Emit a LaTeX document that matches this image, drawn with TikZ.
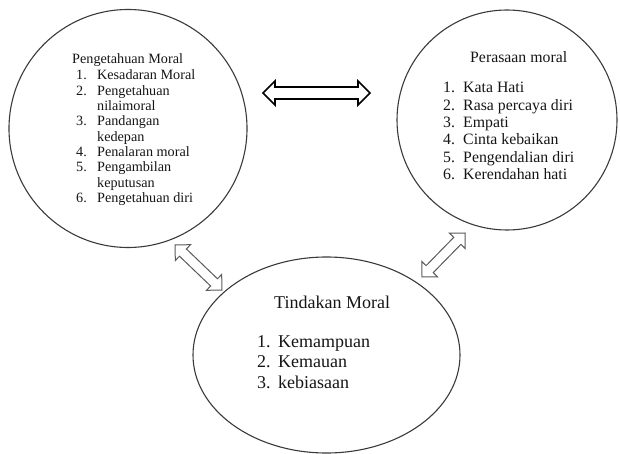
\documentclass[tikz,border=0pt]{standalone}
\usepackage{fontspec}
\setmainfont{Liberation Serif}
\usetikzlibrary{shapes.geometric, calc}
\definecolor{inkgrey}{HTML}{151515}
\definecolor{rimgrey}{HTML}{3A3A3A}
\definecolor{arrowgrey}{HTML}{5A5A5A}
\newcommand\knowfont{\fontsize{14.2}{15.3}\selectfont}
\newcommand\feelfont{\fontsize{15.8}{17.3}\selectfont}
\newcommand\actfont{\fontsize{18}{20.5}\selectfont}
% outlined two-way block arrow between two tip coordinates:
% #1 style, #2 and #3 tips, #4 half shaft, #5 half head (= head length)
\newcommand\twoway[5]{%
  \draw[#1] (#2)
    -- ($(#2)!#5!(#3)!#5!90:(#3)$)
    -- ($(#2)!#5!(#3)!#4!90:(#3)$)
    -- ($(#3)!#5!(#2)!#4!-90:(#2)$)
    -- ($(#3)!#5!(#2)!#5!-90:(#2)$)
    -- (#3)
    -- ($(#3)!#5!(#2)!#5!90:(#2)$)
    -- ($(#3)!#5!(#2)!#4!90:(#2)$)
    -- ($(#2)!#5!(#3)!#4!-90:(#3)$)
    -- ($(#2)!#5!(#3)!#5!-90:(#3)$)
    -- cycle;}
\tikzset{
  bubble/.style={draw=rimgrey, line width=1.1pt, inner sep=0pt},
  heading/.style={anchor=base west, inner sep=0pt, text=inkgrey},
  itemlist/.style={anchor=base west, inner sep=0pt, text=inkgrey},
  boldlink/.style={draw=black, line width=1.6pt, line join=miter},
  thinlink/.style={draw=arrowgrey, line width=1pt, line join=miter},
}

\begin{document}
\begin{tikzpicture}[x=1pt, y=-1pt]
  \useasboundingbox (0,0) rectangle (620,454);

  % The three components, drawn as empty outlines
  \node[bubble, circle, minimum size=238pt] (know) at (128,128.5) {};
  \node[bubble, circle, minimum size=220pt] (feel) at (507,120) {};
  \node[bubble, ellipse, minimum width=267pt, minimum height=196pt] (act) at (326.5,355) {};

  % Moral knowing
  \node[heading, font=\knowfont] (knowtitle) at (72,64) {Pengetahuan Moral};
  \node[itemlist, font=\knowfont] (knowlist) at (76,80) {%
    \begin{tabular}[t]{@{}l@{\hspace{10.3pt}}l@{}}
      1. & Kesadaran Moral\\
      2. & Pengetahuan\\
         & nilaimoral\\
      3. & Pandangan\\
         & kedepan\\
      4. & Penalaran moral\\
      5. & Pengambilan\\
         & keputusan\\
      6. & Pengetahuan diri
    \end{tabular}};

  % Moral feeling
  \node[heading, font=\feelfont] (feeltitle) at (470,63) {Perasaan moral};
  \node[itemlist, font=\feelfont] (feellist) at (443,93) {%
    \begin{tabular}[t]{@{}l@{\hspace{8.2pt}}l@{}}
      1. & Kata Hati\\
      2. & Rasa percaya diri\\
      3. & Empati\\
      4. & Cinta kebaikan\\
      5. & Pengendalian diri\\
      6. & Kerendahan hati
    \end{tabular}};

  % Moral action
  \node[heading, font=\actfont] (acttitle) at (274,308) {Tindakan Moral};
  \node[itemlist, font=\actfont] (actlist) at (257,347) {%
    \begin{tabular}[t]{@{}l@{\hspace{7.5pt}}l@{}}
      1. & Kemampuan\\
      2. & Kemauan\\
      3. & kebiasaan
    \end{tabular}};

  % Two-way links between the components
  \coordinate (kfL) at (263,93);
  \coordinate (kfR) at (370,93);
  \coordinate (kaU) at (175,245);
  \coordinate (kaD) at (222,290);
  \coordinate (faD) at (422,277);
  \coordinate (faU) at (465,233);
  \twoway{boldlink}{kfL}{kfR}{6pt}{12pt}
  \twoway{thinlink}{kaU}{kaD}{5pt}{11pt}
  \twoway{thinlink}{faD}{faU}{5pt}{11pt}
\end{tikzpicture}
\end{document}
